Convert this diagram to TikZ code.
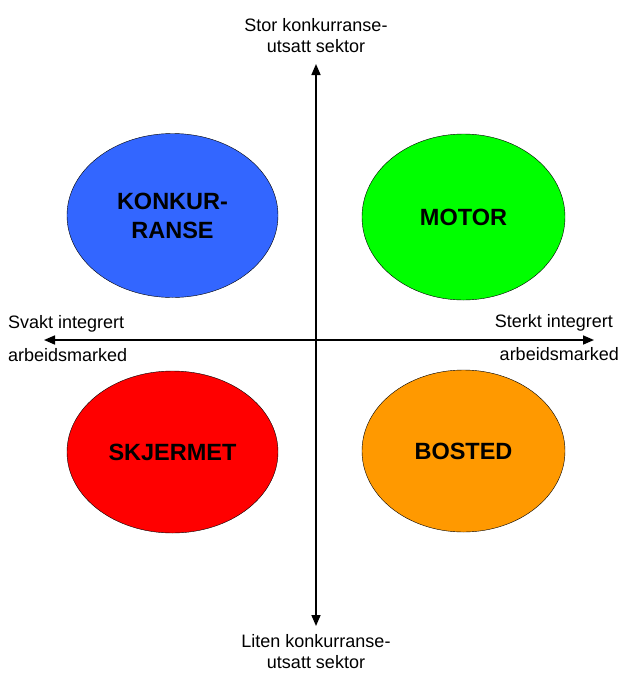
\documentclass[tikz,border=0pt]{standalone}
\usepackage{fontspec}
\setmainfont{Liberation Sans}
\usetikzlibrary{positioning, shapes.geometric, arrows.meta}
\definecolor{qblue}{HTML}{3366FF}
\definecolor{qgreen}{HTML}{00FF00}
\definecolor{qred}{HTML}{FF0000}
\definecolor{qorange}{HTML}{FF9900}
\tikzset{
  quad/.style={ellipse, draw=black, thin, inner sep=0pt},
  quadtext/.style={inner sep=0pt, align=center, font=\fontsize{23.5}{29}\selectfont\bfseries},
  axislabel/.style={inner sep=0pt, font=\fontsize{18}{21}\selectfont},
  axis/.style={line width=1.6pt, -{Triangle[length=11pt,width=9pt]}}
}
\begin{document}
\begin{tikzpicture}[x=1pt, y=-1pt]
    \useasboundingbox (0,0) rectangle (622,673);
    % quadrants
    \node[quad, fill=qblue, minimum width=211pt, minimum height=164pt] (konk) at (172.5,215.5) {};
    \node[quad, fill=qgreen, minimum width=203pt, minimum height=166pt] (motor) at (463.5,217) {};
    \node[quad, fill=qred, minimum width=211pt, minimum height=162pt] (skjerm) at (172.5,452) {};
    \node[quad, fill=qorange, minimum width=203pt, minimum height=162pt] (bosted) at (463.5,451) {};
    \node[quadtext] (konktxt) at (konk.center) {KONKUR-\\RANSE};
    \node[quadtext] (motortxt) at (motor.center) {MOTOR};
    \node[quadtext] (skjermtxt) at (skjerm.center) {SKJERMET};
    \node[quadtext] (bostedtxt) at (bosted.center) {BOSTED};
    % axes
    \coordinate (mid) at (316,340);
    \coordinate (top) at (316,64);
    \coordinate (bot) at (316,626);
    \coordinate (lft) at (44,340);
    \coordinate (rgt) at (594,340);
    \draw[axis] (mid) -- (top);
    \draw[axis] (mid) -- (bot);
    \draw[axis] (mid) -- (lft);
    \draw[axis] (mid) -- (rgt);
    % labels
    \node[axislabel, align=center] (stor) at (316,36) {Stor konkurranse-\\utsatt sektor};
    \node[axislabel, align=center] (liten) at (316,652) {Liten konkurranse-\\utsatt sektor};
    \node[axislabel, anchor=base west] (svakt) at (8,328) {Svakt integrert};
    \node[axislabel, anchor=base west] (svakt2) at (8,361) {arbeidsmarked};
    \node[axislabel, anchor=base east] (sterkt) at (613,327) {Sterkt integrert};
    \node[axislabel, anchor=base east] (sterkt2) at (619,360) {arbeidsmarked};
\end{tikzpicture}
\end{document}
